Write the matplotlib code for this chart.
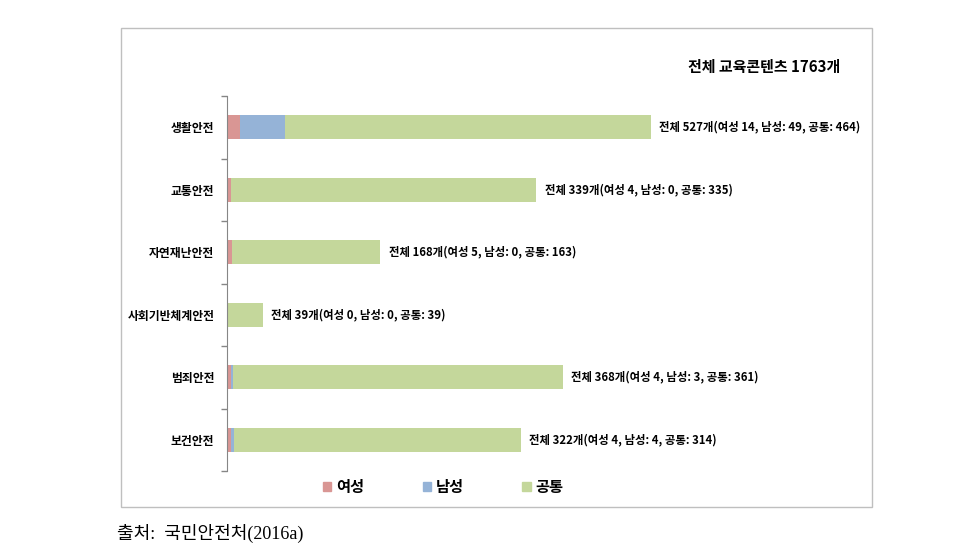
import matplotlib.pyplot as plt
from matplotlib.patches import Patch, Rectangle

plt.rcParams['font.family'] = ['Noto Sans CJK KR', 'DejaVu Sans']

# 데이터
categories = ["생활안전", "교통안전", "자연재난안전", "사회기반체계안전", "범죄안전", "보건안전"]
female = [14, 4, 5, 0, 4, 4]
male = [49, 0, 0, 0, 3, 4]
common = [401, 335, 163, 39, 361, 314]  # 그림에 그려진 막대 길이 기준
bar_labels = [
    "전체 527개(여성 14, 남성: 49, 공통: 464)",
    "전체 339개(여성 4, 남성: 0, 공통: 335)",
    "전체 168개(여성 5, 남성: 0, 공통: 163)",
    "전체 39개(여성 0, 남성: 0, 공통: 39)",
    "전체 368개(여성 4, 남성: 3, 공통: 361)",
    "전체 322개(여성 4, 남성: 4, 공통: 314)",
]
title = "전체 교육콘텐츠 1763개"
source = "출처:  국민안전처(2016a)"

c_f = "#D99694"
c_m = "#95B3D7"
c_c = "#C4D79B"

fig = plt.figure(figsize=(9.7, 5.56), dpi=100)
ax = fig.add_axes([227 / 970, 1 - 471 / 556, 639 / 970, 375 / 556])

y = range(len(categories))
h = 0.385
left_m = [f for f in female]
left_c = [f + m for f, m in zip(female, male)]
ax.barh(y, female, height=h, color=c_f, label="여성")
ax.barh(y, male, left=left_m, height=h, color=c_m, label="남성")
ax.barh(y, common, left=left_c, height=h, color=c_c, label="공통")

for i, lab in enumerate(bar_labels):
    end = left_c[i] + common[i]
    ax.annotate(lab, (end, i), xytext=(6, 0), textcoords="offset points",
                va="center", ha="left", fontsize=8.2, fontweight="bold")

ax.set_xlim(0, 700)
ax.set_ylim(5.5, -0.5)
ax.set_yticks(list(y))
ax.set_yticklabels(categories, fontsize=8.5, fontweight="bold")
ax.set_yticks([i - 0.5 for i in range(len(categories) + 1)], minor=True)
ax.tick_params(axis="y", which="major", length=0, pad=9)
ax.tick_params(axis="y", which="minor", length=4, color="#868686", width=1)
ax.set_xticks([])
for s in ["top", "right", "bottom"]:
    ax.spines[s].set_visible(False)
ax.spines["left"].set_color("#868686")

fig.text(840 / 970, 1 - 67 / 556, title, ha="right", va="center",
         fontsize=10.8, fontweight="bold")

handles = [Patch(color=c_f), Patch(color=c_m), Patch(color=c_c)]
fig.legend(handles, ["여성", "남성", "공통"], loc="center",
           bbox_to_anchor=(443 / 970, 1 - 487 / 556), ncol=3, frameon=False,
           handlelength=0.55, handleheight=0.55, handletextpad=0.3,
           columnspacing=3.85, prop={"size": 11, "weight": "bold"})

fig.patches.append(Rectangle((121 / 970, 1 - 507 / 556), 751 / 970, 479 / 556,
                             transform=fig.transFigure, fill=False,
                             edgecolor="#BFBFBF", linewidth=1))

fig.text(117 / 970, 1 - 533 / 556, source, ha="left", va="center", fontsize=13,
         family=["Liberation Serif", "Noto Sans CJK KR"])

fig.savefig("out.png", dpi=100)
